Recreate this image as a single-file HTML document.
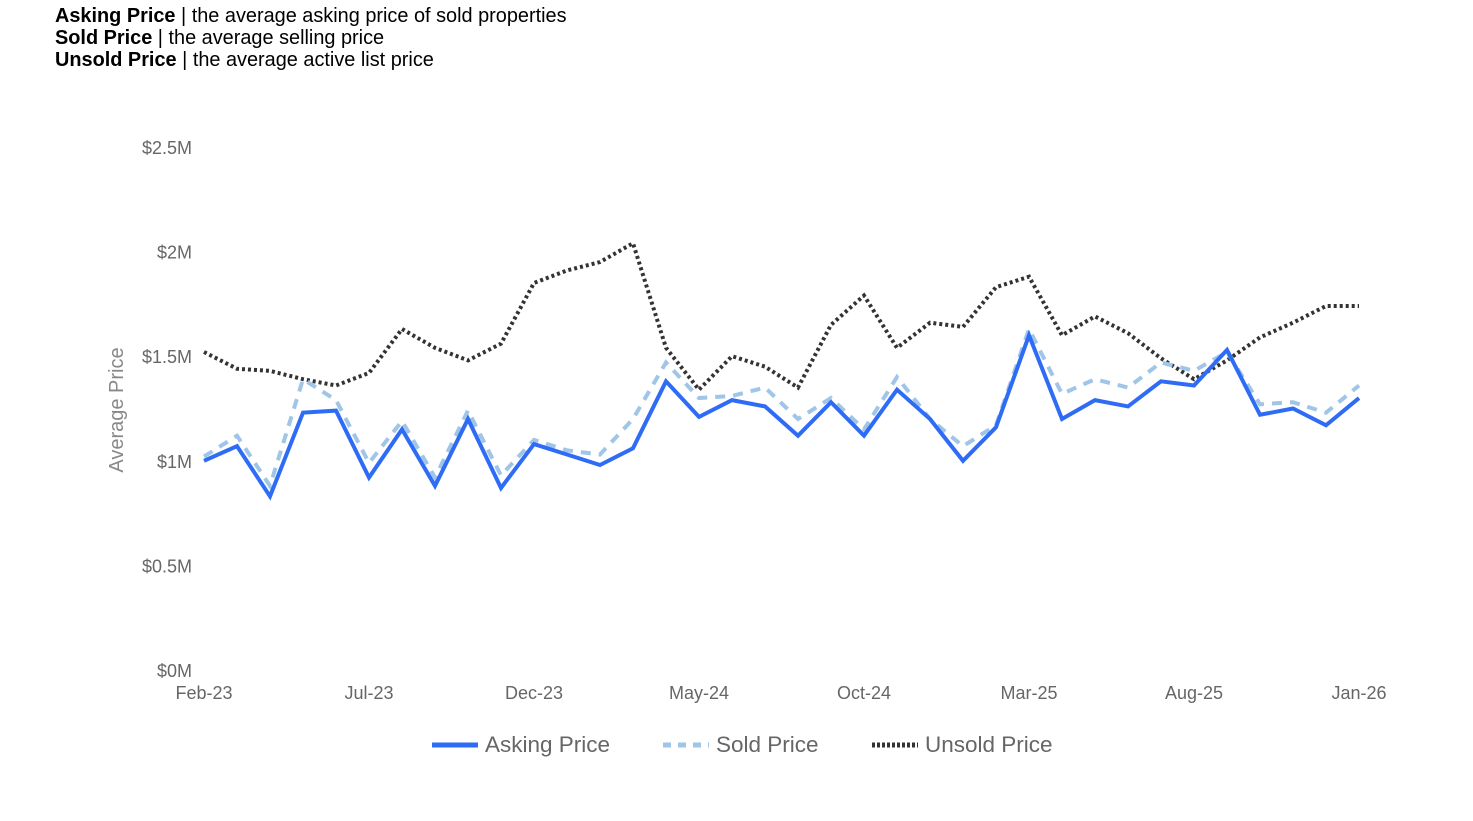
<!DOCTYPE html>
<html><head><meta charset="utf-8"><style>
body{margin:0;background:#fff;width:1473px;height:821px;overflow:hidden;font-family:"Liberation Sans",Arial,sans-serif}
.hdr{position:absolute;left:55px;top:5px;font-size:19.9px;line-height:22px;color:#000}
</style></head><body>
<div class="hdr">
<div><b>Asking Price</b> | the average asking price of sold properties</div>
<div><b>Sold Price</b> | the average selling price</div>
<div><b>Unsold Price</b> | the average active list price</div>
</div>
<svg id="chart" width="1473" height="821" style="position:absolute;left:0;top:0"></svg>
<script>
const months=["Feb-23","Mar-23","Apr-23","May-23","Jun-23","Jul-23","Aug-23","Sep-23","Oct-23","Nov-23","Dec-23","Jan-24","Feb-24","Mar-24","Apr-24","May-24","Jun-24","Jul-24","Aug-24","Sep-24","Oct-24","Nov-24","Dec-24","Jan-25","Feb-25","Mar-25","Apr-25","May-25","Jun-25","Jul-25","Aug-25","Sep-25","Oct-25","Nov-25","Dec-25","Jan-26"];
const asking=[1.00,1.07,0.83,1.23,1.24,0.92,1.15,0.88,1.20,0.87,1.08,1.03,0.98,1.06,1.38,1.21,1.29,1.26,1.12,1.28,1.12,1.34,1.20,1.00,1.16,1.60,1.20,1.29,1.26,1.38,1.36,1.53,1.22,1.25,1.17,1.30];
const sold=[1.02,1.12,0.88,1.39,1.29,0.99,1.19,0.92,1.24,0.93,1.10,1.05,1.03,1.20,1.47,1.30,1.31,1.35,1.20,1.30,1.15,1.40,1.20,1.07,1.17,1.63,1.32,1.39,1.35,1.47,1.43,1.52,1.27,1.28,1.23,1.36];
const unsold=[1.52,1.44,1.43,1.39,1.36,1.42,1.63,1.54,1.48,1.56,1.85,1.91,1.95,2.04,1.54,1.34,1.50,1.45,1.35,1.65,1.79,1.54,1.66,1.64,1.83,1.88,1.60,1.69,1.61,1.49,1.39,1.48,1.59,1.66,1.74,1.74];
const yTicks=[0,0.5,1,1.5,2,2.5];
const yTickLabels=["$0M","$0.5M","$1M","$1.5M","$2M","$2.5M"];
const xTickIdx=[0,5,10,15,20,25,30,35];
const NS="http://www.w3.org/2000/svg";
const svg=document.getElementById('chart');
const x0=204,x1=1359,yBase=670,yTop=147;
function xs(i){return x0+(x1-x0)*i/(months.length-1);}
function ys(v){return yBase-(yBase-yTop)*v/2.5;}
function mk(t,a){const e=document.createElementNS(NS,t);for(const k in a)e.setAttribute(k,a[k]);svg.appendChild(e);return e;}
yTicks.forEach((v,i)=>{
 const t=mk('text',{x:192,y:ys(v)+7,'text-anchor':'end','font-size':18,fill:'#666','font-family':'Liberation Sans, sans-serif'});
 
 
 t.textContent=yTickLabels[i];
});
xTickIdx.forEach(i=>{
 const t=mk('text',{x:xs(i),y:699,'text-anchor':'middle','font-size':18,fill:'#666','font-family':'Liberation Sans, sans-serif'});
 
 
 t.textContent=months[i];
});
const yt=mk('text',{x:0,y:0,transform:'translate(123,410) rotate(-90)','text-anchor':'middle','font-size':20,fill:'#888','font-family':'Liberation Sans, sans-serif'});


yt.textContent='Average Price';
function line(data,stroke,w,dash,name){
 const p=mk('polyline',{points:data.map((v,i)=>xs(i)+','+ys(v)).join(' '),fill:'none',stroke:stroke,'stroke-width':w,'stroke-dasharray':dash,'stroke-linejoin':'miter'});
 
 
}
line(unsold,'#333',4,'3,3','unsold-price-line');
line(sold,'#9fc5e8',4,'10,8','sold-price-line');
line(asking,'#2f6cf5',4,'none','asking-price-line');
const leg=[["Asking Price",'#2f6cf5','none',432],["Sold Price",'#9fc5e8','8,7',663],["Unsold Price",'#333','3,2',872]];
leg.forEach(l=>{
 const g=mk('line',{x1:l[3],x2:l[3]+46,y1:745,y2:745,stroke:l[1],'stroke-width':5,'stroke-dasharray':l[2]});
 
 
 const t=mk('text',{x:l[3]+53,y:752,'font-size':22.5,fill:'#666','font-family':'Liberation Sans, sans-serif'});
 
 
 t.textContent=l[0];
});
</script>
</body></html>
